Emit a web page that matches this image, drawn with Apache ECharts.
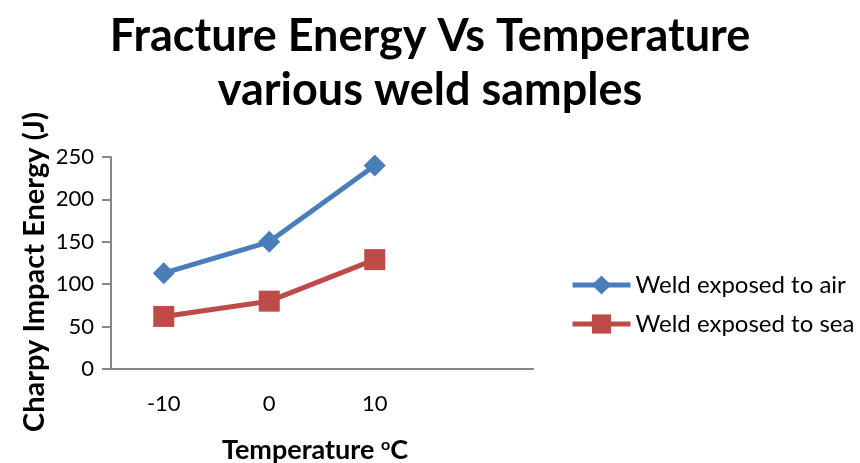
<!DOCTYPE html>
<html>
<head>
<meta charset="utf-8">
<script src="https://cdn.jsdelivr.net/npm/echarts@6/dist/echarts.min.js"></script>
<style>html,body{margin:0;padding:0;background:#fff}#c{width:860px;height:463px}</style>
</head>
<body>
<div id="c"></div>
<script>
const categories = ['-10', '0', '10', ''];
const airValues = [113, 150, 240, null];
const seaValues = [62, 80, 129, null];
const seriesNames = ['Weld exposed to air', 'Weld exposed to sea'];
const yTicks = { min: 0, max: 250, interval: 50 };
const titleText = 'Fracture Energy Vs Temperature\nvarious weld samples';

const FONT = 'Lato';
const chart = echarts.init(document.getElementById('c'), null, { renderer: 'canvas' });
chart.setOption({
  animation: false,
  backgroundColor: '#ffffff',
  title: {
    text: titleText,
    left: 'center',
    top: 4,
    textStyle: { fontFamily: FONT, fontWeight: 'bold', fontSize: 45, lineHeight: 54, color: '#000' }
  },
  legend: {
    orient: 'vertical',
    left: 565,
    top: 268,
    itemWidth: 58,
    itemHeight: 24,
    itemGap: 15,
    lineStyle: { width: 5 },
    textStyle: { fontFamily: FONT, fontSize: 24, color: '#000' },
    data: seriesNames
  },
  grid: { left: 111, right: 327, top: 157, bottom: 94, containLabel: false, outerBoundsMode: 'none' },
  xAxis: {
    type: 'category',
    data: categories,
    boundaryGap: true,
    name: 'Temperature {sup|o}C',
    nameLocation: 'middle',
    nameGap: 68,
    nameTextStyle: {
      fontFamily: FONT, fontWeight: 'bold', fontSize: 27, color: '#000',
      padding: [0, 14, 0, 0],
      rich: { sup: { fontFamily: FONT, fontWeight: 'bold', fontSize: 16, verticalAlign: 'top', padding: [0, 0, 10, 0] } }
    },
    axisLine: { lineStyle: { color: '#868686', width: 2 } },
    axisTick: { show: false },
    axisLabel: { fontFamily: FONT, fontSize: 22, color: '#000', margin: 24 },
    splitLine: { show: false }
  },
  yAxis: {
    type: 'value',
    min: yTicks.min,
    max: yTicks.max,
    interval: yTicks.interval,
    name: 'Charpy Impact Energy (J)',
    nameLocation: 'middle',
    nameGap: 62,
    nameTextStyle: { fontFamily: FONT, fontWeight: 'bold', fontSize: 29, color: '#000', padding: [0, 18, 0, 0] },
    axisLine: { show: true, lineStyle: { color: '#868686', width: 2 } },
    axisTick: { show: true, length: 9, lineStyle: { color: '#868686', width: 2 } },
    axisLabel: { fontFamily: FONT, fontSize: 22, color: '#000', margin: 17 },
    splitLine: { show: false }
  },
  series: [
    {
      name: seriesNames[0], type: 'line', data: airValues,
      symbol: 'diamond', symbolSize: 22,
      lineStyle: { color: '#4A7EBB', width: 5 },
      itemStyle: { color: '#4A7EBB' }
    },
    {
      name: seriesNames[1], type: 'line', data: seaValues,
      symbol: 'rect', symbolSize: 21,
      lineStyle: { color: '#BE4B48', width: 5 },
      itemStyle: { color: '#BE4B48' }
    }
  ]
});
</script>
</body>
</html>
